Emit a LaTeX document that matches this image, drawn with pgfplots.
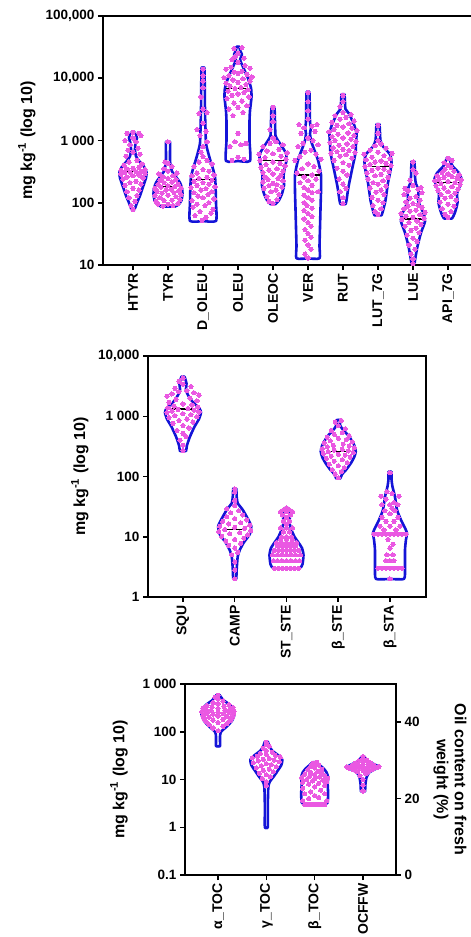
\documentclass[border=0pt]{standalone}
\usepackage{fontspec}
\setmainfont{Liberation Sans}
\usepackage{pgfplots}
\usepackage{pgfplotstable}
\pgfplotsset{compat=1.18}
\definecolor{vblue}{RGB}{20,20,215}
\definecolor{vpink}{RGB}{234,88,226}

% ---------- top panel profiles (w in px, v in mg/kg) ----------
\pgfplotstableread{
w v
0 78
1.5 78
4 100
7 130
10 180
13 250
13.5 310
11 380
6 470
3 560
2 700
2.5 900
4 1100
3 1250
1.5 1350
0 1350
}\vHTYR
\pgfplotstableread{
w v
0 87
7 87
11 95
13.5 110
14.5 140
14 170
12 210
8 260
4 320
2.5 400
2 500
2 950
0 950
}\vTYR
\pgfplotstableread{
w v
0 51
13 51
13 100
12.5 200
12 260
10 350
7 500
4.5 700
3 900
2.5 1500
2 3000
1.5 14000
0 14000
}\vDOLEU
\pgfplotstableread{
w v
0 470
12 470
11.5 1000
11.5 2000
12 3000
13.5 5000
13 7000
10 10000
6 14000
3 18000
2 20000
4 24000
2 28000
1.5 32000
0 32000
}\vOLEU
\pgfplotstableread{
w v
0 95
2.5 95
6 110
9 140
11 190
10.5 260
11.5 350
13.5 480
13 620
9 800
5 1000
2.5 1200
2 2000
1.5 3400
0 3400
}\vOLEOC
\pgfplotstableread{
w v
0 12.8
11.5 12.8
11.5 20
12 40
12.5 80
13 150
13 280
10.5 450
8 600
5 800
3 1000
2 1300
3 1600
2 2000
1.5 5900
0 5900
}\vVER
\pgfplotstableread{
w v
0 95
2.5 95
3.5 110
5.5 180
9 340
12.5 630
13 900
13.5 1300
11 1800
6 2700
2.5 3200
2 4000
1.5 5500
0 5500
}\vRUT
\pgfplotstableread{
w v
0 63
3.5 63
5.5 80
7.5 110
10 210
12.5 330
13.5 450
12 600
5 800
2.5 1000
2 1300
1.5 1820
0 1820
}\vLUT
\pgfplotstableread{
w v
0 10.4
1.5 10.4
2 12
4.5 20
8 33
12 50
11 65
7 90
5 110
5.5 160
3 200
2 260
1.5 457
0 457
}\vLUE
\pgfplotstableread{
w v
0 56
4 56
7 70
9.5 100
9 140
12 190
13.5 240
11 300
5 380
2.5 450
1.5 520
0 520
}\vAPI

% ---------- top panel dots (d in px) ----------
\pgfplotstableread{
d v
0 78
-2 90
2 105
-4 120
4 130
-6 150
6 160
0 170
-8 190
8 200
-3 210
3 220
-10 240
10 250
-6 260
0 270
6 280
-12 290
12 295
-8 305
-3 310
3 315
8 320
-12 330
12 340
-6 350
0 360
6 370
-9 400
9 420
-4 450
4 480
-7 560
7 600
0 650
-5 700
5 750
-3 850
3 950
-8 1000
0 1100
8 1200
-6 1300
6 1300
0 1350
}\dHTYR
\pgfplotstableread{
d v
-5 88
5 90
-10 95
0 95
10 97
-12 105
-4 108
4 110
12 112
-8 120
8 125
-13 130
0 132
13 135
-6 142
6 145
-11 152
11 155
-2 160
3 165
-13 170
13 172
-7 178
7 182
0 188
-10 195
10 200
-4 210
4 215
-8 228
8 235
0 245
-5 260
5 270
-9 290
9 300
0 320
-4 350
4 380
0 430
-3 450
0 950
}\dTYR
\pgfplotstableread{
d v
-1 52
3 58
-8 62
8 68
-3 72
10 78
-10 85
2 90
-6 95
6 100
-11 108
11 115
0 120
-5 128
5 135
-9 145
9 150
-2 160
3 168
-12 175
12 180
-6 190
6 198
0 210
-9 220
9 230
-4 245
4 255
-11 270
11 280
-6 300
6 320
0 340
-9 380
9 420
-4 450
4 480
0 550
-2 650
0 800
4 950
-3 1200
3 1400
-6 1500
0 1900
-4 2700
4 2800
0 3200
-2 5000
0 7000
0 9000
0 11000
0 14000
}\dDOLEU
\pgfplotstableread{
d v
-6 480
6 500
0 540
-8 800
3 850
8 900
-3 950
0 1300
-5 2500
5 2800
-9 3200
0 3400
9 3600
-4 4000
4 4300
-11 4700
11 5000
-6 5300
0 5600
6 5900
-10 6200
10 6500
-3 6800
3 7100
-8 7500
8 7900
-12 8300
0 8600
12 9000
-5 9400
5 9800
-14 10200
14 10500
-9 11000
9 11500
0 12000
-4 12500
4 13000
-12 14000
12 14500
-7 15000
7 16000
0 18000
-6 20000
6 21000
-3 22000
0 25000
-4 30000
4 31000
}\dOLEU
\pgfplotstableread{
d v
0 97
-4 105
4 112
-6 125
6 135
-2 150
3 160
-9 170
9 178
-4 188
4 195
0 205
-10 215
10 225
-5 235
5 245
-8 260
8 275
0 290
-10 305
10 320
-4 335
4 350
-12 370
12 390
-7 410
7 430
0 450
-13 480
13 500
-8 530
8 560
-14 600
0 610
14 630
-6 680
6 720
-10 800
10 850
-3 900
3 950
0 1100
-3 1500
0 2000
0 2500
0 3400
}\dOLEOC
\pgfplotstableread{
d v
0 13
-3 15
3 18
0 21
-3 25
3 28
0 32
-3 37
3 42
0 48
-4 55
4 60
0 67
-4 75
4 82
-1 90
-4 100
4 110
0 120
-4 132
4 145
10 150
0 160
-4 175
4 190
-8 210
0 225
8 240
-4 260
4 280
-11 300
11 320
-6 350
6 380
0 420
-13 480
13 500
-8 550
8 600
-3 650
3 700
-10 800
10 850
-5 900
5 1000
0 1100
-7 1300
7 1400
-4 1600
4 1700
-9 1800
9 1800
0 2200
0 3000
0 4200
0 5900
}\dVER
\pgfplotstableread{
d v
0 97
0 120
-3 150
3 170
0 200
-4 240
4 280
0 320
-6 360
6 400
0 440
-9 480
9 520
-3 560
3 590
-12 620
12 640
-6 660
6 690
0 720
-10 760
10 800
-4 840
4 880
-13 920
13 960
-8 1000
8 1050
0 1100
-11 1150
11 1200
-5 1260
5 1320
-14 1380
14 1440
-9 1500
9 1580
0 1650
-6 1750
6 1850
-11 1950
11 2050
-3 2200
3 2350
-8 2500
8 2600
0 2800
-3 3500
0 4200
0 5300
}\dRUT
\pgfplotstableread{
d v
0 65
-3 72
3 80
-5 90
5 100
0 110
-6 122
6 135
-2 148
3 160
-8 172
8 185
0 198
-5 210
5 225
-10 240
10 255
-3 270
3 285
-11 300
11 315
-6 330
6 345
0 360
-13 380
13 395
-8 410
8 430
-3 450
3 470
-12 490
12 510
-6 540
6 570
-14 600
14 620
0 650
-8 700
8 750
-3 820
3 880
0 1000
0 1300
0 1750
}\dLUT
\pgfplotstableread{
d v
0 10.5
0 12.5
-2 15
2 18
-4 21
4 24
0 27
-6 30
6 33
-2 36
3 39
-8 42
8 45
-4 48
4 51
-11 54
11 56
0 58
-7 61
7 64
-12 67
12 70
-3 73
3 76
-9 80
9 84
-5 88
5 92
0 97
-7 103
7 110
-3 118
3 126
-9 135
9 145
-5 155
5 165
-8 170
8 175
0 190
-3 230
3 300
0 340
0 450
}\dLUE
\pgfplotstableread{
d v
0 58
-3 65
3 72
-6 80
6 88
0 95
-8 102
8 110
-3 118
3 126
-7 135
7 142
0 150
-10 158
10 165
-4 172
4 180
-12 188
12 195
-7 202
7 210
0 218
-13 225
13 232
-9 240
9 248
-4 256
4 264
-11 272
11 280
0 290
-6 305
6 320
-3 345
3 370
0 400
-4 440
4 480
0 520
}\dAPI

% ---------- middle panel ----------
\pgfplotstableread{
w v
0 265
3 265
4 330
7 460
11.5 670
16 900
18 1150
16.5 1350
10 1700
6 2100
3 2700
3.5 3500
1.5 4550
0 4550
}\vSQU
\pgfplotstableread{
w v
0 2
1.5 2
2 3
3 4.7
5 6
9 8
15 11
16.5 15
13 20
8 28
3 36
2 45
1.5 63
0 63
}\vCAMP
\pgfplotstableread{
w v
0 3
13 3
16 3.5
17 5
15.5 6.5
12 8
8 10
5 13
3 17
3.5 22
3 27
1.5 30
0 30
}\vSTSTE
\pgfplotstableread{
w v
0 93
2 93
4 110
8 130
12.5 165
16 210
17.5 260
16 330
11 460
5 590
2 700
1.5 870
0 870
}\vBSTE
\pgfplotstableread{
w v
0 2
14 2
15 3
15 6
16 9
17 11.5
15 14
11 19
7 28
5 46
2.5 68
1.5 90
1.5 120
0 120
}\vBSTA
\pgfplotstableread{
d v
0 270
0 330
-3 400
3 460
0 520
-6 580
6 640
0 700
-10 760
10 800
-4 850
4 900
-14 950
14 980
-8 1020
8 1060
0 1100
-16 1150
16 1180
-11 1220
11 1260
-5 1300
5 1340
-15 1380
15 1420
-9 1480
9 1540
0 1600
-14 1700
14 1800
-7 1900
7 2000
-16 2150
16 2250
-11 2350
11 2450
-4 2550
4 2650
-8 2900
8 3100
0 3400
-4 3800
0 4300
}\dSQU
\pgfplotstableread{
d v
0 2
0 2.8
0 3.8
-3 5
3 5.5
0 6.5
-6 7.2
6 7.8
-9 8.5
0 9
9 9.5
-13 10.2
13 10.7
-5 11.2
5 11.7
-16 12.2
16 12.7
-10 13.2
10 13.8
0 14.3
-15 15
15 15.6
-6 16.3
6 17
-12 18
12 19
0 20
-8 21.5
8 23
-4 25
4 27
-8 29
0 33
0 40
0 55
0 62
}\dCAMP
\pgfplotstableread{
d v
-12 3
-8 3
-4 3
0 3
4 3
8 3
12 3
-13 4
-9 4
-4.5 4
0 4
4.5 4
9 4
13 4
-14 5
-9 5
-4.5 5
0 5
4.5 5
9 5
14 5
-12 6
-8 6
-4 6
0 6
4 6
8 6
12 6
-9 7
-4.5 7
0 7
4.5 7
9 7
-10 8
-5 8
0 8
5 8
10 8
-6 9
0 9
6 9
-5 10
0 10
5 10
-3 12
3 12
-6 14
0 14
6 14
0 16
-3 18
3 18
0 21
-4 23
4 23
-6 26
0 26
6 26
-3 28
3 28
0 30
}\dSTSTE
\pgfplotstableread{
d v
0 95
-3 110
3 120
-6 130
6 140
0 150
-9 160
9 170
-4 180
4 190
-12 200
12 210
-7 218
7 226
0 234
-15 242
15 250
-10 258
10 266
-4 274
4 282
-16 290
16 300
-11 310
11 320
-5 330
5 345
-14 360
14 375
-8 390
8 410
0 430
-11 450
11 470
-4 500
4 530
-7 580
7 620
0 700
-3 800
3 850
}\dBSTE
\pgfplotstableread{
d v
0 2
-12 3
-8 3
-4 3
0 3
4 3
8 3
12 3
-4 4
0 4
4 4
-3 5
3 5
0 6.5
3 7.5
-2 9
-16 11
-12 11
-8 11
-4 11
0 11
4 11
8 11
12 11
16 11
-6 13
6 13
-10 15
0 15
10 15
-4 18
4 18
-8 21
8 21
0 24
-5 27
5 27
2 30
-8 34
0 34
8 34
4 37
-4 42
-9 47
9 47
2 52
-3 56
0 115
}\dBSTA

% ---------- bottom panel ----------
\pgfplotstableread{
w v
0 50
2 50
2 80
3 100
9 130
14 170
16.5 230
15.5 300
11 380
6 450
3 530
1.5 590
0 590
}\vATOC
\pgfplotstableread{
w v
0 1
1.5 1
1.5 3
2 7
3.5 9
8 12
12 16
15 20
16 26
12 32
6 40
3 50
1.5 62
0 62
}\vGTOC
\pgfplotstableread{
w v
0 3
11 3
13 3.3
13.5 5
13 8
13.5 11
12 14
9 17
5 20
2 23
0 23
}\vBTOC
\pgfplotstableread{
w v
0 21.9
2 21.9
2.5 24
3.5 25.5
6 26.8
12 27.7
16 28.3
12 28.9
7 29.5
3 30.3
1.5 31
0 31
}\vOCFFW
\pgfplotstableread{
d v
0 105
-5 120
5 130
-9 140
9 148
0 155
-12 162
12 170
-5 176
5 182
-14 190
14 196
-9 202
9 208
0 214
-15 220
15 226
-5 232
5 238
-11 244
11 250
0 256
-16 262
16 268
-7 274
7 282
-12 290
12 298
0 306
-15 314
15 322
-6 330
6 340
-11 355
11 370
0 385
-5 410
5 440
0 480
-3 530
0 580
}\dATOC
\pgfplotstableread{
d v
0 7.5
0 9
-4 10.5
4 11.5
0 12.5
-7 13.5
7 14.5
-3 15.5
3 16.5
-10 17.5
10 18.5
-5 19.5
5 20.5
0 21.5
-13 22.5
13 23.5
-8 24.5
8 25.5
-3 26.5
3 27.5
-14 28.5
14 29.5
-9 30.5
9 32
0 33.5
-6 35
6 37
0 40
-3 45
3 50
0 55
0 60
}\dGTOC
\pgfplotstableread{
d v
-10 3
-6 3
-2 3
2 3
6 3
10 3
-12 3.6
12 3.6
-6 4
4 4.2
0 4.6
-10 5
10 5
-4 5.5
6 6
-12 6.5
0 7
10 7.5
-6 8
4 8.3
-12 8.7
12 9
-2 9.3
8 9.7
-8 10
0 10.3
13 10.6
-13 11
5 11.3
-5 11.6
10 12
0 12.5
-10 13
7 13.5
-4 14
3 15
-7 16
7 16.5
0 17.5
-4 19
4 20
0 21
-2 22
2 23
}\dBTOC
\pgfplotstableread{
d v
0 22
0 23.5
0 25
-3 26
3 26.5
-6 27
6 27.2
0 27.4
-10 27.6
10 27.7
-4 27.8
4 27.9
-14 28
14 28.1
-8 28.2
8 28.3
0 28.4
-16 28.3
16 28.4
-11 28.6
11 28.7
-5 28.8
5 28.9
-8 29.2
8 29.3
0 29.5
-4 29.9
4 30.1
0 30.5
0 31
}\dOCFFW

\pgfplotsset{
  violin/.style={vblue, line width=2.6pt, line join=round, line cap=round, mark=none, smooth, tension=0.35},
  pinkdots/.style={only marks, color=vpink, mark=*, mark size=2.1pt, mark options={solid, fill=vpink, draw=vpink, line width=0pt}},
  medline/.style={black, line width=1.2pt, mark=none},
  panel/.style={scale only axis, clip=false,
    axis line style={line width=1.5pt},
    every tick/.style={black, line width=1.5pt},
    major tick length=5pt, tick align=outside,
    xtick pos=left, ytick pos=left,
    yminorticks=false,
    yticklabel style={font=\fontsize{13.5}{15}\selectfont\bfseries},
    x tick label style={rotate=90, anchor=east, font=\fontsize{14}{16}\selectfont\bfseries},
    ylabel style={font=\fontsize{16}{18}\selectfont\bfseries, anchor=center},
  },
}
\newcommand{\violin}[3]{%
  \addplot[violin] table[x expr={#1+\thisrow{w}/#3}, y=v] {#2};
  \addplot[violin] table[x expr={#1-\thisrow{w}/#3}, y=v] {#2};
}
\newcommand{\pdots}[3]{%
  \addplot[pinkdots] table[x expr={#1+\thisrow{d}/#3}, y=v] {#2};
}
\newcommand{\med}[4]{%
  \addplot[medline] table[row sep=\\, x expr={#1+\thisrow{d}/#4}, y=v] {d v\\ -#3 #2\\ #3 #2\\};
}

\begin{document}
\begin{tikzpicture}[x=1pt,y=1pt]
\useasboundingbox (0,0) rectangle (471,-937);

% ===== top panel =====
\begin{axis}[panel, at={(103pt,-265pt)}, anchor=south west,
  width=375pt, height=249pt,
  xmin=-0.857, xmax=9.857, ymode=log, ymin=10, ymax=100000,
  xtick={0,...,9},
  xticklabels={HTYR,TYR,D\_OLEU,OLEU,OLEOC,VER,RUT,LUT\_7G,LUE,API\_7G},
  ytick={10,100,1000,10000,100000},
  yticklabels={10,100,{1 000},{10,000},{100,000}},
  ylabel={mg kg\textsuperscript{-1} (log 10)},
  ylabel style={at={(axis description cs:-0.203,0.5)}},
]
\violin{0}{\vHTYR}{35}
\violin{1}{\vTYR}{35}
\violin{2}{\vDOLEU}{35}
\violin{3}{\vOLEU}{35}
\violin{4}{\vOLEOC}{35}
\violin{5}{\vVER}{35}
\violin{6}{\vRUT}{35}
\violin{7}{\vLUT}{35}
\violin{8}{\vLUE}{35}
\violin{9}{\vAPI}{35}
\pdots{0}{\dHTYR}{35}
\pdots{1}{\dTYR}{35}
\pdots{2}{\dDOLEU}{35}
\pdots{3}{\dOLEU}{35}
\pdots{4}{\dOLEOC}{35}
\pdots{5}{\dVER}{35}
\pdots{6}{\dRUT}{35}
\pdots{7}{\dLUT}{35}
\pdots{8}{\dLUE}{35}
\pdots{9}{\dAPI}{35}
\med{0}{315}{11}{35}
\med{1}{185}{11}{35}
\med{2}{238}{12}{35}
\med{3}{6900}{12}{35}
\med{4}{473}{12}{35}
\med{5}{280}{12}{35}
\med{7}{380}{11}{35}
\med{8}{55}{10}{35}
\med{9}{210}{11}{35}
\end{axis}

% ===== middle panel =====
\begin{axis}[panel, at={(148pt,-597pt)}, anchor=south west,
  width=278pt, height=241pt,
  xmin=-0.676, xmax=4.696, ymode=log, ymin=1, ymax=10000,
  xtick={0,...,4},
  xticklabels={SQU,CAMP,ST\_STE,β\_STE,β\_STA},
  ytick={1,10,100,1000,10000},
  yticklabels={1,10,100,{1 000},{10,000}},
  ylabel={mg kg\textsuperscript{-1} (log 10)},
  ylabel style={at={(axis description cs:-0.245,0.5)}},
]
\violin{0}{\vSQU}{51.75}
\violin{1}{\vCAMP}{51.75}
\violin{2}{\vSTSTE}{51.75}
\violin{3}{\vBSTE}{51.75}
\violin{4}{\vBSTA}{51.75}
\pdots{0}{\dSQU}{51.75}
\pdots{1}{\dCAMP}{51.75}
\pdots{2}{\dSTSTE}{51.75}
\pdots{3}{\dBSTE}{51.75}
\pdots{4}{\dBSTA}{51.75}
\med{0}{1320}{12}{51.75}
\med{1}{13}{10}{51.75}
\med{2}{8}{8}{51.75}
\med{3}{257}{10}{51.75}
\med{4}{11.8}{10}{51.75}
\end{axis}

% ===== bottom panel =====
\begin{axis}[panel, at={(185pt,-875pt)}, anchor=south west,
  width=211pt, height=191pt,
  xmin=-0.683, xmax=3.683, ymode=log, ymin=0.1, ymax=1000,
  xtick={0,...,3},
  xticklabels={α\_TOC,γ\_TOC,β\_TOC,OCFFW},
  ytick={0.1,1,10,100,1000},
  yticklabels={0.1,1,10,100,{1 000}},
  ylabel={mg kg\textsuperscript{-1} (log 10)},
  ylabel style={at={(axis description cs:-0.313,0.5)}},
]
\violin{0}{\vATOC}{48.33}
\violin{1}{\vGTOC}{48.33}
\violin{2}{\vBTOC}{48.33}
\pdots{0}{\dATOC}{48.33}
\pdots{1}{\dGTOC}{48.33}
\pdots{2}{\dBTOC}{48.33}
\end{axis}
\begin{axis}[scale only axis, clip=false, at={(185pt,-875pt)}, anchor=south west,
  width=211pt, height=191pt,
  xmin=-0.683, xmax=3.683, ymin=0, ymax=50,
  axis x line=none, axis y line*=right,
  axis line style={line width=1.5pt},
  every tick/.style={black, line width=1.5pt},
  major tick length=5pt, tick align=outside,
  ytick={0,20,40}, yticklabels={0,20,40},
  yticklabel style={font=\fontsize{13.5}{15}\selectfont\bfseries},
  ylabel={Oil content on fresh\\weight (\%)},
  ylabel style={font=\fontsize{16}{18}\selectfont\bfseries, align=center, rotate=180, anchor=center, at={(axis description cs:1.256,0.5)}},
]
\violin{3}{\vOCFFW}{48.33}
\pdots{3}{\dOCFFW}{48.33}
\end{axis}
\end{tikzpicture}
\end{document}
